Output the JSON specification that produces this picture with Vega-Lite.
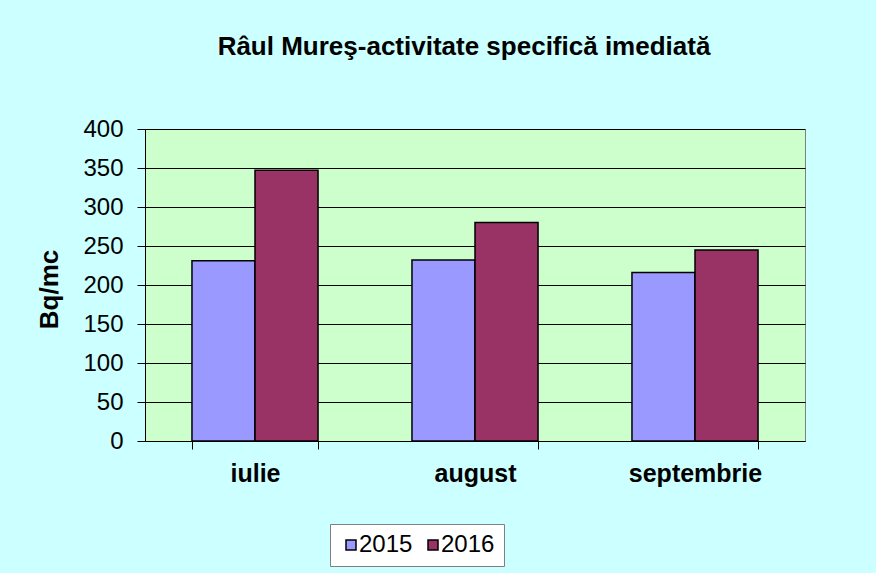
{
  "$schema": "https://vega.github.io/schema/vega-lite/v6.json",
  "width": 660,
  "height": 312,
  "autosize": {"type": "none"},
  "padding": {"left": 145, "top": 129, "right": 71, "bottom": 132},
  "background": "#CCFFFF",
  "title": {
    "text": "Râul Mureş-activitate specifică imediată",
    "font": "Liberation Sans",
    "fontSize": 26,
    "fontWeight": "bold",
    "color": "#000000",
    "anchor": "middle",
    "dx": -11,
    "offset": 57
  },
  "config": {
    "view": {"fill": "#CCFFCC", "stroke": "#808080", "strokeWidth": 1},
    "font": "Liberation Sans"
  },
  "data": {
    "values": [
      {"luna": "iulie", "an": "2015", "valoare": 231},
      {"luna": "iulie", "an": "2016", "valoare": 347},
      {"luna": "august", "an": "2015", "valoare": 232},
      {"luna": "august", "an": "2016", "valoare": 280},
      {"luna": "septembrie", "an": "2015", "valoare": 216},
      {"luna": "septembrie", "an": "2016", "valoare": 245}
    ]
  },
  "mark": {"type": "bar", "stroke": "#000000", "strokeWidth": 1.5},
  "encoding": {
    "x": {
      "field": "luna",
      "type": "nominal",
      "sort": ["iulie", "august", "septembrie"],
      "scale": {"paddingInner": 0.427, "paddingOuter": 0.2135},
      "axis": {
        "title": null,
        "labelAngle": 0,
        "labelFont": "Liberation Sans",
        "labelFontSize": 25,
        "labelFontWeight": "bold",
        "labelColor": "#000000",
        "labelPadding": 12,
        "tickSize": 8,
        "tickColor": "#000000",
        "tickBand": "extent",
        "domainColor": "#000000",
        "grid": false
      }
    },
    "xOffset": {"field": "an", "type": "nominal", "scale": {"paddingInner": 0, "paddingOuter": 0}},
    "y": {
      "field": "valoare",
      "type": "quantitative",
      "scale": {"domain": [0, 400], "nice": false},
      "axis": {
        "title": "Bq/mc",
        "titleFont": "Liberation Sans",
        "titleFontSize": 26,
        "titleFontWeight": "bold",
        "titleColor": "#000000",
        "titleX": -83,
        "titleY": 160,
        "titleAngle": 270,
        "values": [0, 50, 100, 150, 200, 250, 300, 350, 400],
        "labelFont": "Liberation Sans",
        "labelFontSize": 24,
        "labelColor": "#000000",
        "labelPadding": 14,
        "tickSize": 8,
        "tickColor": "#000000",
        "domainColor": "#000000",
        "gridColor": "#000000",
        "gridOpacity": 1,
        "gridWidth": 1
      }
    },
    "color": {
      "field": "an",
      "type": "nominal",
      "scale": {"domain": ["2015", "2016"], "range": ["#9999FF", "#993366"]},
      "legend": {
        "title": null,
        "orient": "none",
        "direction": "horizontal",
        "legendX": 185,
        "legendY": 395,
        "fillColor": "#FFFFFF",
        "strokeColor": "#808080",
        "padding": 9,
        "symbolType": "square",
        "symbolSize": 100,
        "symbolStrokeColor": "#000000",
        "symbolStrokeWidth": 1.5,
        "symbolOpacity": 1,
        "labelFont": "Liberation Sans",
        "labelFontSize": 24,
        "labelColor": "#000000",
        "labelOffset": -4,
        "columnPadding": 8
      }
    }
  }
}
